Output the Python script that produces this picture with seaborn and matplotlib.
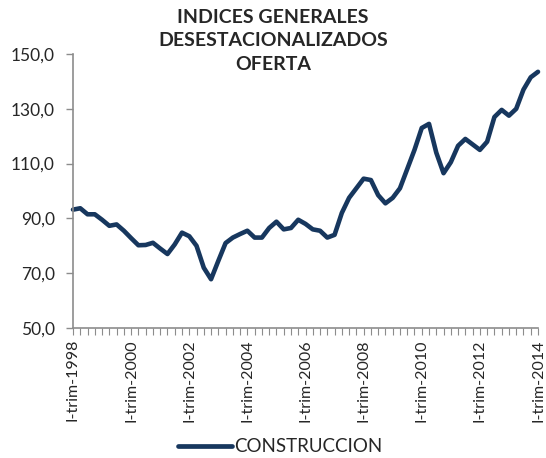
import matplotlib
matplotlib.use("Agg")
import matplotlib.pyplot as plt
import seaborn as sns
import pandas as pd
import numpy as np

# Data (quarterly, I-trim-1998 .. I-trim-2014)
values = [93.2, 93.7, 91.5, 91.5, 89.5, 87.3, 87.8, 85.5, 82.8, 80.2,
          80.3, 81.1, 79.0, 77.0, 80.5, 84.8, 83.5, 80.0, 72.0, 67.8,
          74.5, 81.0, 83.0, 84.3, 85.5, 83.0, 83.0, 86.5, 88.8, 86.0,
          86.5, 89.5, 88.0, 86.0, 85.5, 83.0, 84.0, 92.0, 97.5, 101.0,
          104.5, 104.0, 98.5, 95.5, 97.5, 101.0, 108.0, 115.0, 123.0, 124.5,
          114.0, 106.5, 110.5, 116.5, 119.0, 117.0, 115.0, 118.0, 127.0, 129.6,
          127.5, 130.0, 137.0, 141.5, 143.5]
years = list(range(1998, 2015, 2))
tick_labels = [f"I-trim-{y}" for y in years]
y_ticks = [50, 70, 90, 110, 130, 150]
series_name = "CONSTRUCCION"
title = "INDICES GENERALES\nDESESTACIONALIZADOS\nOFERTA"

df = pd.DataFrame({"q": np.arange(len(values)), "v": values, "serie": series_name})

sns.set_style("white")
plt.rcParams["font.family"] = ["Lato", "DejaVu Sans"]

fig = plt.figure(figsize=(5.46, 4.58), dpi=100)
ax = fig.add_axes([73/546, 1-328/458, (538-73)/546, (328-54)/458])

sns.lineplot(data=df, x="q", y="v", hue="serie", palette=["#17375E"],
             linewidth=3.3, ax=ax, legend=True)
for ln in ax.lines:
    ln.set_solid_joinstyle("round")
    ln.set_solid_capstyle("round")
    ln.set_clip_on(False)

ax.set_xlim(0, len(values) - 1)
ax.set_ylim(50, 150)
ax.set_yticks(y_ticks)
ax.set_yticklabels([f"{t:.1f}".replace(".", ",") for t in y_ticks],
                   fontsize=12.5)
ax.set_xticks(np.arange(0, len(values), 8))
ax.set_xticklabels(tick_labels, rotation=90, fontsize=11.5)
ax.set_xticks(np.arange(len(values)), minor=True)
ax.set_xlabel("")
ax.set_ylabel("")

for s in ["top", "right"]:
    ax.spines[s].set_visible(False)
for s in ["left", "bottom"]:
    ax.spines[s].set_color("#8c8c8c")
    ax.spines[s].set_linewidth(1.2)

ax.tick_params(axis="y", which="major", direction="out", length=5,
               color="#8c8c8c", width=1, pad=8, left=True)
ax.tick_params(axis="x", which="both", direction="out", length=5,
               color="#8c8c8c", width=0.8, pad=3, bottom=True)

fig.text(0.5, 0.98, title, ha="center", va="top", fontsize=14,
         fontweight="bold", linespacing=1.45)

leg = ax.legend(loc="center", bbox_to_anchor=(0.513, 1 - 447/458),
                bbox_transform=fig.transFigure,
                frameon=False, fontsize=13.5, handlelength=2.9,
                handletextpad=0.1, borderaxespad=0, borderpad=0)
for h in leg.get_lines():
    h.set_linewidth(3.4)

fig.savefig("out.png", dpi=100)
